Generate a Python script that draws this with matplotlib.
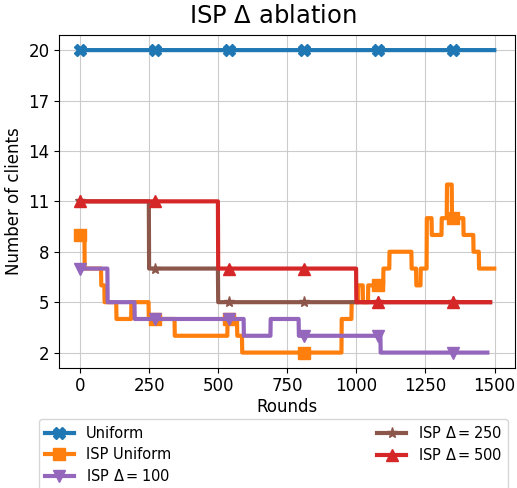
import matplotlib
matplotlib.use("Agg")
import matplotlib.pyplot as plt
import numpy as np

# change points (round where the value starts) and client counts
uniform_starts = [0]
uniform_vals = [20]
uniform_end = 1500

isp_uniform_starts = [0, 17, 77, 89, 132, 186, 249, 343, 534, 569, 587, 947, 983,
                      1007, 1024, 1043, 1098, 1120, 1200, 1217, 1233, 1255, 1273,
                      1309, 1328, 1346, 1388, 1424, 1444]
isp_uniform_vals = [9, 7, 6, 5, 4, 5, 4, 3, 4, 3, 2, 4, 5,
                    6, 5, 6, 7, 8, 7, 6, 7, 10, 9,
                    10, 12, 10, 9, 8, 7]
isp_uniform_end = 1500

isp_100_starts = [0, 100, 198, 593, 690, 792, 1088]
isp_100_vals = [7, 5, 4, 3, 4, 3, 2]
isp_100_end = 1475

isp_250_starts = [0, 250, 500]
isp_250_vals = [11, 7, 5]
isp_250_end = 1485

isp_500_starts = [0, 500, 1000]
isp_500_vals = [11, 7, 5]
isp_500_end = 1485

x_ticks = [0, 250, 500, 750, 1000, 1250, 1500]
y_ticks = [2, 5, 8, 11, 14, 17, 20]


def step_series(starts, vals, end):
    # hold each value until the next change point, one entry per round
    durations = np.diff(np.append(starts, end))
    return np.arange(end), np.repeat(vals, durations)


fig = plt.figure(figsize=(5.17, 4.88), dpi=100)
ax = fig.add_axes([0.1147, 0.2465, 0.8814, 0.6818])

series = [
    ("Uniform", uniform_starts, uniform_vals, uniform_end, "tab:blue", "X"),
    ("ISP Uniform", isp_uniform_starts, isp_uniform_vals, isp_uniform_end, "tab:orange", "s"),
    (r"ISP $\Delta = 100$", isp_100_starts, isp_100_vals, isp_100_end, "tab:purple", "v"),
    (r"ISP $\Delta = 250$", isp_250_starts, isp_250_vals, isp_250_end, "tab:brown", "*"),
    (r"ISP $\Delta = 500$", isp_500_starts, isp_500_vals, isp_500_end, "tab:red", "^"),
]

for label, starts, vals, end, color, marker in series:
    x, y = step_series(starts, vals, end)
    ax.plot(x, y, color=color, linewidth=3, marker=marker, markersize=8,
            markevery=270, label=label)

ax.set_xticks(x_ticks)
ax.set_yticks(y_ticks)
ax.tick_params(labelsize=12)
ax.set_xlabel("Rounds", fontsize=12, labelpad=2)
ax.set_ylabel("Number of clients", fontsize=12)
ax.grid(True, color="#cccccc", linewidth=0.8)

fig.text(273 / 517, 0.9523, r"ISP $\Delta$ ablation", fontsize=17.5,
         ha="center", va="baseline")

ax.legend(bbox_to_anchor=(0.0754, 0.1408, 0.907, 0.0), bbox_transform=fig.transFigure,
          loc="upper left", mode="expand", ncol=2, borderaxespad=0, fontsize=10.5,
          labelspacing=0.4)

fig.savefig("out.png", dpi=100)
